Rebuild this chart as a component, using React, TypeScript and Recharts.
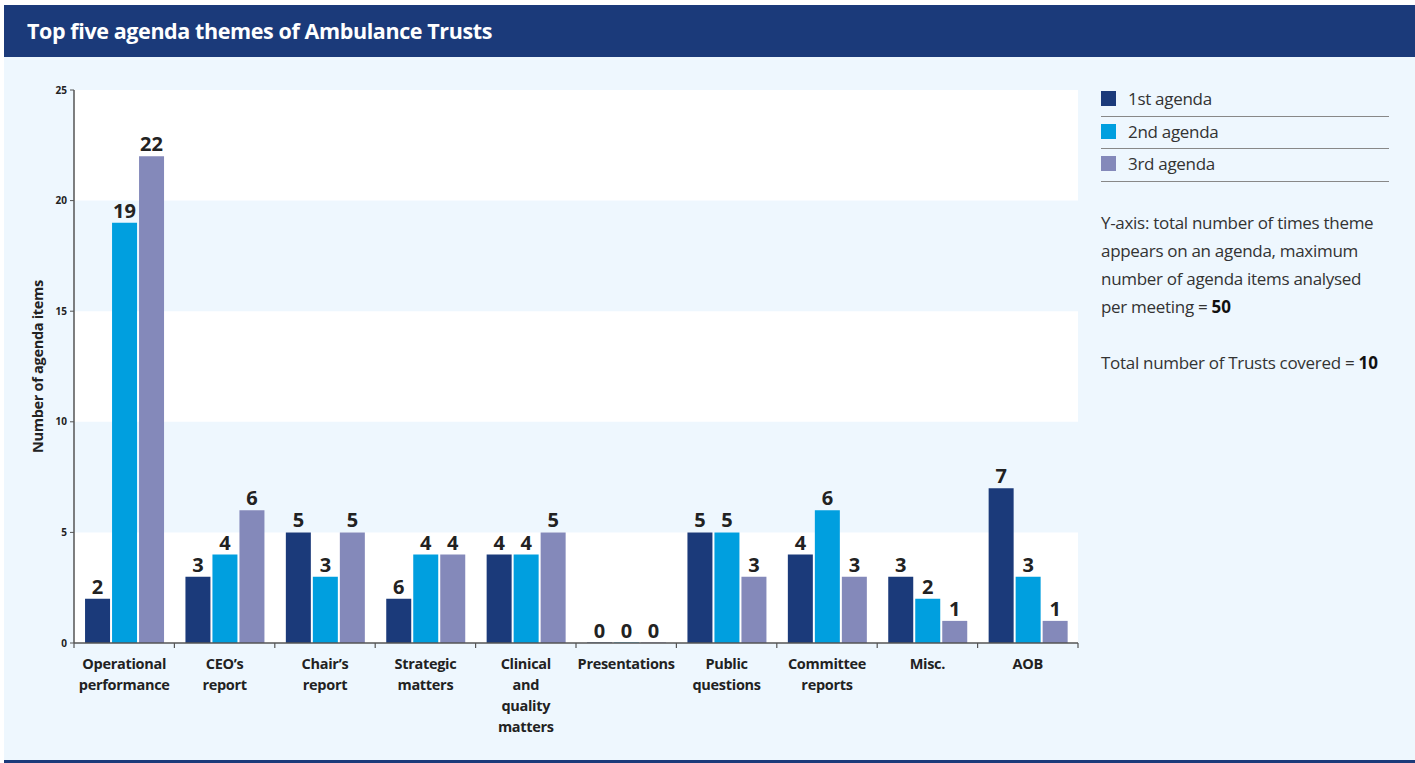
import React from 'react';
import { BarChart, Bar, XAxis, YAxis, ReferenceArea, LabelList } from 'recharts';

const categories = [
  'Operational\nperformance',
  'CEO’s\nreport',
  'Chair’s\nreport',
  'Strategic\nmatters',
  'Clinical\nand\nquality\nmatters',
  'Presentations',
  'Public\nquestions',
  'Committee\nreports',
  'Misc.',
  'AOB',
];
const firstAgenda = [2, 3, 5, 2, 4, 0, 5, 4, 3, 7];
const firstAgendaLabels = ['2', '3', '5', '6', '4', '0', '5', '4', '3', '7'];
const secondAgenda = [19, 4, 3, 4, 4, 0, 5, 6, 2, 3];
const thirdAgenda = [22, 6, 5, 4, 5, 0, 3, 3, 1, 1];
const yTicks = [0, 5, 10, 15, 20, 25];
const whiteBands = [
  [0, 5],
  [10, 15],
  [20, 25],
];
const seriesNames = ['1st agenda', '2nd agenda', '3rd agenda'];
const seriesColors = ['#1B3A7A', '#009FDF', '#8489BA'];
const noteLines = [
  'Y-axis: total number of times theme',
  'appears on an agenda, maximum',
  'number of agenda items analysed',
];
const maxItemsPerMeeting = 50;
const trustsCovered = 10;

const data = categories.map((c, i) => ({
  name: c,
  first: firstAgenda[i],
  firstLabel: firstAgendaLabels[i],
  second: secondAgenda[i],
  third: thirdAgenda[i],
}));

const FONT = '"Open Sans", "DejaVu Sans", sans-serif';
const NAVY = '#1B3A7A';
const BG = '#EEF7FE';

const CategoryTick = (props: any) => {
  const { x, y, payload, index } = props;
  const off = payload && typeof payload.offset === 'number' ? payload.offset : 0;
  const lines = String(payload.value).split('\n');
  const last = index === categories.length - 1;
  return (
    <g>
      <line x1={x - off} x2={x - off} y1={y} y2={y + 5} stroke="#555" strokeWidth={1.2} />
      {last && <line x1={x + off} x2={x + off} y1={y} y2={y + 5} stroke="#555" strokeWidth={1.2} />}
      <text
        x={x}
        y={y + 26}
        textAnchor="middle"
        fontFamily={FONT}
        fontSize={14.5}
        fontWeight={700}
        fill="#222"
        letterSpacing={-0.3}
      >
        {lines.map((l, i) => (
          <tspan key={i} x={x} dy={i === 0 ? 0 : 21}>
            {l}
          </tspan>
        ))}
      </text>
    </g>
  );
};

const YLabel = (props: any) => {
  const vb = props.viewBox || { x: 34, y: 90, width: 40, height: 553 };
  const cx = vb.x + 3;
  const cy = vb.y + vb.height / 2;
  return (
    <text
      x={cx}
      y={cy}
      transform={`rotate(-90, ${cx}, ${cy})`}
      textAnchor="middle"
      dominantBaseline="central"
      fontFamily={FONT}
      fontSize={14.5}
      fontWeight={700}
      fill="#222"
      letterSpacing={-0.3}
    >
      Number of agenda items
    </text>
  );
};

const valueLabelStyle = {
  fontFamily: FONT,
  fontSize: 20,
  fontWeight: 700,
  fill: '#222',
};

const noteStyle: React.CSSProperties = {
  height: 28,
  fontSize: 17,
  lineHeight: '28px',
  color: '#333',
  letterSpacing: -0.3,
  whiteSpace: 'nowrap',
};

export default function App() {
  return (
    <div
      style={{
        position: 'absolute',
        left: 0,
        top: 0,
        width: 1415,
        height: 763,
        background: '#ffffff',
        fontFamily: FONT,
        overflow: 'hidden',
      }}
    >
      <div
        style={{
          position: 'absolute',
          left: 4,
          top: 5,
          width: 1411,
          height: 52,
          background: NAVY,
        }}
      >
        <div
          style={{
            position: 'absolute',
            left: 23,
            top: 12,
            color: '#fff',
            fontWeight: 700,
            fontSize: 21.5,
            letterSpacing: -0.4,
            lineHeight: '28px',
          }}
        >
          Top five agenda themes of Ambulance Trusts
        </div>
      </div>
      <div
        style={{
          position: 'absolute',
          left: 4,
          top: 57,
          width: 1411,
          height: 703,
          background: BG,
        }}
      />
      <div
        style={{
          position: 'absolute',
          left: 4,
          top: 760,
          width: 1411,
          height: 3,
          background: NAVY,
        }}
      />
      <div style={{ position: 'absolute', left: 0, top: 0 }}>
        <BarChart
          width={1100}
          height={763}
          data={data}
          margin={{ top: 90, right: 22, bottom: 20, left: 34 }}
          barCategoryGap="11%"
          barGap={2}
        >
          {whiteBands.map((b, i) => (
            <ReferenceArea
              key={i}
              y1={b[0]}
              y2={b[1]}
              fill="#ffffff"
              fillOpacity={1}
              stroke="none"
              ifOverflow="hidden"
            />
          ))}
          <Bar dataKey="first" name={seriesNames[0]} fill={seriesColors[0]} minPointSize={0.5} isAnimationActive={false}>
            <LabelList dataKey="firstLabel" position="top" offset={5} style={valueLabelStyle} />
          </Bar>
          <Bar dataKey="second" name={seriesNames[1]} fill={seriesColors[1]} minPointSize={0.5} isAnimationActive={false}>
            <LabelList dataKey="second" position="top" offset={5} style={valueLabelStyle} />
          </Bar>
          <Bar dataKey="third" name={seriesNames[2]} fill={seriesColors[2]} minPointSize={0.5} isAnimationActive={false}>
            <LabelList dataKey="third" position="top" offset={5} style={valueLabelStyle} />
          </Bar>
          <XAxis
            dataKey="name"
            height={100}
            interval={0}
            tickSize={0}
            tickMargin={0}
            tickLine={false}
            axisLine={{ stroke: '#555', strokeWidth: 1.5 }}
            tick={<CategoryTick />}
          />
          <YAxis
            width={40}
            domain={[0, 25]}
            ticks={yTicks}
            interval={0}
            tickSize={4}
            tickMargin={3}
            axisLine={{ stroke: '#555', strokeWidth: 1.5 }}
            tickLine={{ stroke: '#555' }}
            tick={{ fontFamily: FONT, fontSize: 10, fontWeight: 700, fill: '#222' }}
            label={<YLabel />}
          />
        </BarChart>
      </div>
      <div style={{ position: 'absolute', left: 1101, top: 84, width: 288 }}>
        {seriesNames.map((n, i) => (
          <div
            key={n}
            style={{
              position: 'relative',
              height: 32.5,
              borderBottom: '1.5px solid #888',
              boxSizing: 'border-box',
            }}
          >
            <div
              style={{
                position: 'absolute',
                left: 0,
                top: 7,
                width: 15,
                height: 15,
                background: seriesColors[i],
              }}
            />
            <div
              style={{
                position: 'absolute',
                left: 27,
                top: 4,
                fontSize: 17,
                lineHeight: '22px',
                color: '#333',
                letterSpacing: -0.3,
              }}
            >
              {n}
            </div>
          </div>
        ))}
      </div>
      <div style={{ position: 'absolute', left: 1101, top: 209, width: 300 }}>
        {noteLines.map((l) => (
          <div key={l} style={noteStyle}>
            {l}
          </div>
        ))}
        <div style={noteStyle}>
          <span>per meeting = </span>
          <b style={{ color: '#111', letterSpacing: 0 }}>{maxItemsPerMeeting}</b>
        </div>
      </div>
      <div style={{ position: 'absolute', left: 1101, top: 349, width: 310 }}>
        <div style={noteStyle}>
          <span>Total number of Trusts covered = </span>
          <b style={{ color: '#111', letterSpacing: 0 }}>{trustsCovered}</b>
        </div>
      </div>
    </div>
  );
}
